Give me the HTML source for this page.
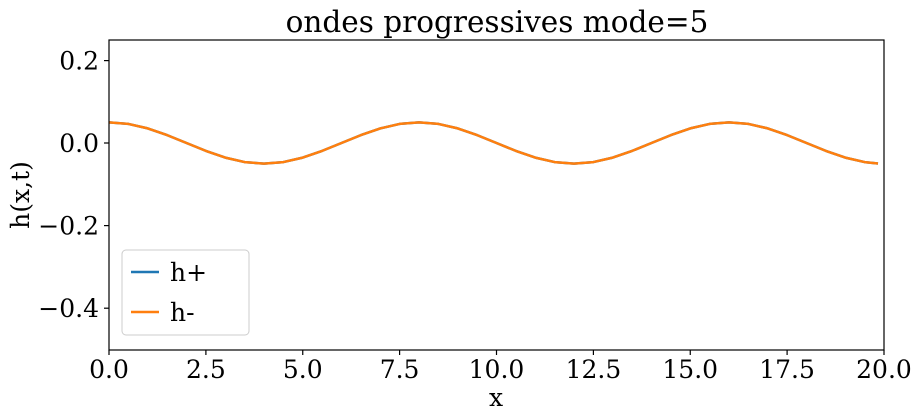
<!DOCTYPE html>
<html><head><style>body{margin:0;background:#fff}svg{display:block}text{font-family:"DejaVu Serif","Liberation Serif",serif;fill:#000}</style></head>
<body>
<svg width="921" height="419" viewBox="0 0 921 419" xmlns="http://www.w3.org/2000/svg">
<text x="497" y="32" font-size="29.5" text-anchor="middle">ondes progressives mode=5</text>
<polyline fill="none" stroke="#1f77b4" stroke-width="2.5" stroke-linejoin="round" points="109,122.35 128.4,123.92 147.75,128.4 167.1,135.1 186.5,143 205.9,150.9 225.25,157.6 244.6,162.08 264,163.65 283.4,162.08 302.75,157.6 322.1,150.9 341.5,143 360.9,135.1 380.25,128.4 399.6,123.92 419,122.35 438.4,123.92 457.75,128.4 477.1,135.1 496.5,143 515.9,150.9 535.25,157.6 554.6,162.08 574,163.65 593.4,162.08 612.75,157.6 632.1,150.9 651.5,143 670.9,135.1 690.25,128.4 709.6,123.92 729,122.35 748.4,123.92 767.75,128.4 787.1,135.1 806.5,143 825.9,150.9 845.25,157.6 864.6,162.08 878,163.5"/>
<polyline fill="none" stroke="#ff7f0e" stroke-width="2.5" stroke-linejoin="round" points="109,122.35 128.4,123.92 147.75,128.4 167.1,135.1 186.5,143 205.9,150.9 225.25,157.6 244.6,162.08 264,163.65 283.4,162.08 302.75,157.6 322.1,150.9 341.5,143 360.9,135.1 380.25,128.4 399.6,123.92 419,122.35 438.4,123.92 457.75,128.4 477.1,135.1 496.5,143 515.9,150.9 535.25,157.6 554.6,162.08 574,163.65 593.4,162.08 612.75,157.6 632.1,150.9 651.5,143 670.9,135.1 690.25,128.4 709.6,123.92 729,122.35 748.4,123.92 767.75,128.4 787.1,135.1 806.5,143 825.9,150.9 845.25,157.6 864.6,162.08 878,163.5"/>
<rect x="109" y="40" width="775" height="310" fill="none" stroke="#000" stroke-width="1.2"/>
<g stroke="#000" stroke-width="1.2">
<line x1="109" y1="350" x2="109" y2="355"/><line x1="205.9" y1="350" x2="205.9" y2="355"/><line x1="302.75" y1="350" x2="302.75" y2="355"/><line x1="399.6" y1="350" x2="399.6" y2="355"/><line x1="496.5" y1="350" x2="496.5" y2="355"/><line x1="593.4" y1="350" x2="593.4" y2="355"/><line x1="690.25" y1="350" x2="690.25" y2="355"/><line x1="787.1" y1="350" x2="787.1" y2="355"/><line x1="884" y1="350" x2="884" y2="355"/>
<line x1="104" y1="60.6" x2="109" y2="60.6"/><line x1="104" y1="143" x2="109" y2="143"/><line x1="104" y1="225.6" x2="109" y2="225.6"/><line x1="104" y1="308.2" x2="109" y2="308.2"/>
</g>
<g font-size="25" text-anchor="middle">
<text x="109" y="378">0.0</text><text x="205.9" y="378">2.5</text><text x="302.75" y="378">5.0</text><text x="399.6" y="378">7.5</text><text x="496.5" y="378">10.0</text><text x="593.4" y="378">12.5</text><text x="690.25" y="378">15.0</text><text x="787.1" y="378">17.5</text><text x="884" y="378">20.0</text>
</g>
<g font-size="25" text-anchor="end">
<text x="99" y="69.5">0.2</text><text x="99" y="152">0.0</text><text x="99" y="234.5">−0.2</text><text x="99" y="317">−0.4</text>
</g>
<text x="496" y="406" font-size="25" text-anchor="middle">x</text>
<text transform="translate(29,195) rotate(-90)" font-size="25" text-anchor="middle">h(x,t)</text>
<rect x="122" y="250" width="127" height="85" rx="4" fill="#fff" fill-opacity="0.8" stroke="#ccc"/>
<line x1="131" y1="272" x2="159" y2="272" stroke="#1f77b4" stroke-width="2.5"/>
<line x1="131" y1="312" x2="159" y2="312" stroke="#ff7f0e" stroke-width="2.5"/>
<text x="170" y="281" font-size="25">h+</text>
<text x="170" y="321" font-size="25">h-</text>
</svg>
</body></html>
